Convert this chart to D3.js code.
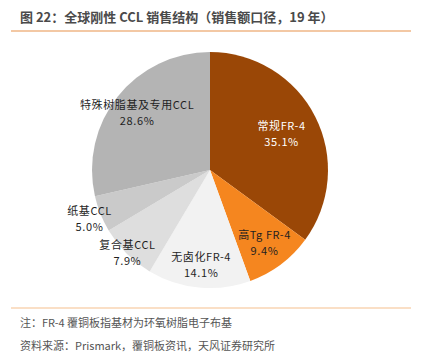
<!DOCTYPE html>
<html>
<head>
<meta charset="utf-8">
<script src="https://cdn.jsdelivr.net/npm/d3@7"></script>
<style>
	body { margin: 0; background: #fff; }
	svg { display: block; font-family: "Noto Sans CJK SC", "Noto Sans", sans-serif; }
</style>
</head>
<body>
<svg id="chart" width="426" height="353"></svg>
<script>
// chart data
const categories = ['常规FR-4', '高Tg FR-4', '无卤化FR-4', '复合基CCL', '纸基CCL', '特殊树脂基及专用CCL'];
const shares = [35.1, 9.4, 14.1, 7.9, 5.0, 28.6];
const colors = ['#9a4706', '#f5861f', '#f2f2f2', '#dedede', '#cacaca', '#b4b4b4'];

// label distance from centre, as a fraction of the radius
const labelRadius = [0.68, 0.77, 0.8, 0.99, 1.1, 0.79];

const svg = d3.select('#chart'),
	cx = 210,
	cy = 170,
	radius = 118;

// header
svg.append('text')
	.attr('x', 20)
	.attr('y', 22)
	.attr('font-size', 13)
	.attr('font-weight', 'bold')
	.attr('fill', '#4a4a4a')
	.text('图 22：全球刚性 CCL 销售结构（销售额口径，19 年）');

svg.append('line')
	.attr('x1', 11).attr('x2', 411)
	.attr('y1', 31).attr('y2', 31)
	.attr('stroke', '#e8914a')
	.attr('stroke-width', 1.2);

// pie
let data = categories.map(function(c, i) {
	return {name: c, value: shares[i], idx: i};
});

let pie = d3.pie()
	.sort(null)
	.value(function(d) { return d.value; });

let arc = d3.arc()
	.innerRadius(0)
	.outerRadius(radius);

let g = svg.append('g')
	.attr('transform', 'translate(' + cx + ',' + cy + ')');

let arcs = pie(data);

g.selectAll('path')
	.data(arcs)
	.enter()
	.append('path')
	.attr('d', arc)
	.attr('fill', function(d) { return colors[d.data.idx]; });

// labels
let eachLabel = g.selectAll('.slice-label')
	.data(arcs)
	.enter()
	.append('text')
	.attr('class', 'slice-label')
	.attr('text-anchor', 'middle')
	.attr('font-size', 11)
	.attr('letter-spacing', 0.6)
	.attr('fill', function(d) { return d.data.idx === 0 ? '#ffffff' : '#1f1f1f'; })
	.attr('transform', function(d) {
		let a = (d.startAngle + d.endAngle) / 2,
			r = radius * labelRadius[d.data.idx];
		return 'translate(' + (Math.sin(a) * r) + ',' + (-Math.cos(a) * r) + ')';
	});

eachLabel.append('tspan')
	.attr('x', 0)
	.attr('dy', '-0.3em')
	.text(function(d) { return d.data.name; });

eachLabel.append('tspan')
	.attr('x', 0)
	.attr('dy', '1.45em')
	.text(function(d) { return d.data.value.toFixed(1) + '%'; });

// footer
svg.append('line')
	.attr('x1', 11).attr('x2', 411)
	.attr('y1', 308).attr('y2', 308)
	.attr('stroke', '#f6c08e')
	.attr('stroke-width', 1.2);

svg.append('text')
	.attr('x', 20)
	.attr('y', 327)
	.attr('font-size', 11)
	.attr('fill', '#555')
	.text('注：FR-4 覆铜板指基材为环氧树脂电子布基');

svg.append('text')
	.attr('x', 20)
	.attr('y', 350)
	.attr('font-size', 11)
	.attr('fill', '#555')
	.text('资料来源：Prismark，覆铜板资讯，天风证券研究所');
</script>
</body>
</html>
